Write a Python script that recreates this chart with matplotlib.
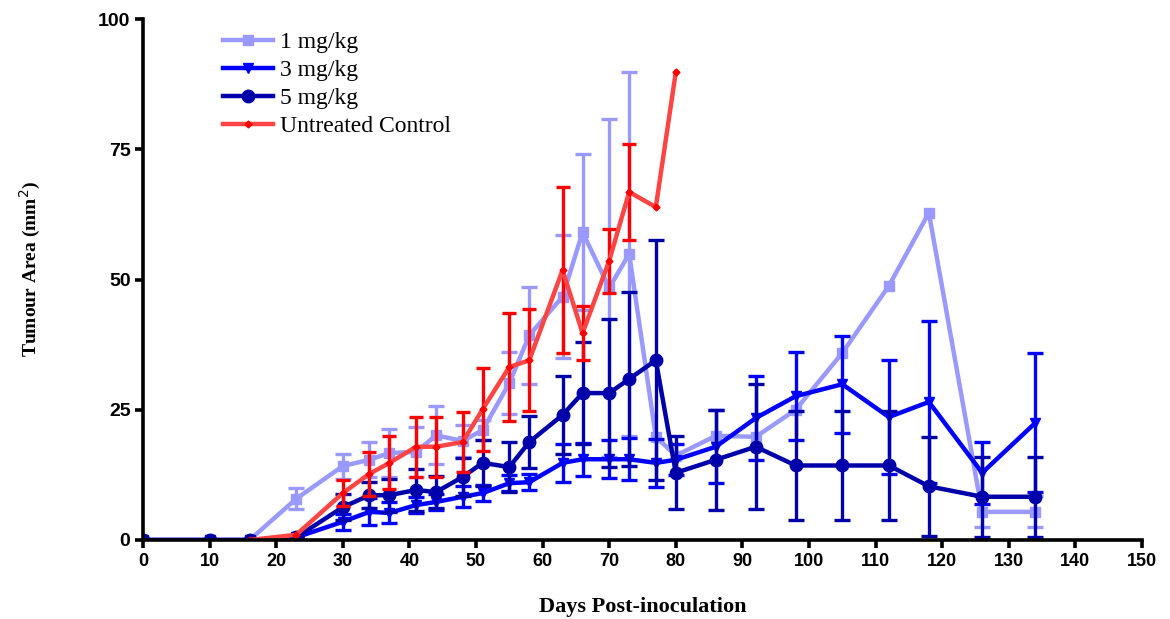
import matplotlib
matplotlib.use("Agg")
import matplotlib.pyplot as plt
from matplotlib.lines import Line2D
import numpy as np

# ---- data ----
days_treated = [0, 10, 16, 23, 30, 34, 37, 41, 44, 48, 51, 55, 58, 63, 66, 70, 73, 77, 80,
                86, 92, 98, 105, 112, 118, 126, 134]

mg1_mean = [0, 0, 0, 7.9, 14.2, 15.4, 16.7, 16.9, 20.1, 19.0, 21.1, 30.1, 39.3, 46.7, 59.1,
            48.4, 54.9, 19.8, 16.2, 20.0, 19.8, 25.0, 35.9, 48.8, 62.8, 5.4, 5.4]
mg1_err = [0, 0, 0, 2.0, 2.4, 3.4, 4.6, 4.8, 5.6, 3.0, 2.0, 6.0, 9.3, 11.8, 15.0,
           32.4, 35.0, 0, 0, 0, 0, 0, 0, 0, 0, 3.0, 3.0]

mg3_mean = [0, 0, 0, 0.5, 3.5, 5.4, 5.2, 6.7, 7.3, 8.3, 9.0, 10.9, 11.1, 14.8, 15.5,
            15.5, 15.5, 14.8, 15.4, 17.9, 23.4, 27.6, 29.9, 23.6, 26.5, 12.9, 22.5]
mg3_err = [0, 0, 0, 0.3, 1.5, 2.6, 2.0, 1.5, 1.5, 2.0, 1.5, 1.5, 1.5, 3.6, 3.2,
           3.6, 4.0, 4.6, 3.0, 7.0, 8.0, 8.5, 9.3, 11.0, 15.5, 6.0, 13.3]

mg5_mean = [0, 0, 0, 0.5, 6.3, 8.6, 8.6, 9.6, 9.2, 12.1, 14.8, 14.0, 18.8, 24.0, 28.2,
            28.2, 30.9, 34.5, 12.9, 15.4, 17.9, 14.3, 14.3, 14.3, 10.3, 8.3, 8.3]
mg5_err = [0, 0, 0, 0.3, 2.5, 2.5, 3.2, 4.0, 3.0, 3.6, 4.4, 4.8, 5.0, 7.5, 9.8,
           14.2, 16.7, 23.0, 7.0, 9.6, 12.0, 10.5, 10.5, 10.5, 9.5, 7.7, 7.7]

days_control = [16, 23, 30, 34, 37, 41, 44, 48, 51, 55, 58, 63, 66, 70, 73, 77, 80]
ctrl_mean = [0, 1.0, 9.0, 12.7, 14.8, 17.9, 17.9, 18.8, 25.1, 33.2, 34.5, 51.8, 39.7,
             53.6, 66.8, 63.9, 89.8]
ctrl_err = [0, 0, 2.5, 4.2, 5.1, 5.8, 5.8, 5.8, 8.0, 10.3, 9.8, 16.0, 5.2, 6.1, 9.2, 0, 0]

labels = ["1 mg/kg", "3 mg/kg", "5 mg/kg", "Untreated Control"]
xticks = list(range(0, 151, 10))
yticks = [0, 25, 50, 75, 100]


def err_or_nan(e):
    e = np.array(e, dtype=float)
    return np.where(e > 0, e, np.nan)


# ---- figure ----
fig = plt.figure(figsize=(11.7, 6.19), dpi=100)
ax = fig.add_axes([143/1170, 79/619, (1142-143)/1170, (540-19)/619])

c1, c3, c5 = "#9999FF", "#0000FF", "#0000AA"
cline, cerr = "#FF4444", "#FF0000"

common = dict(lw=3.2, capsize=5.5, capthick=2.4, elinewidth=2.4)
ax.errorbar(days_treated, mg1_mean, yerr=err_or_nan(mg1_err), color=c1, marker="s", ms=7,
            zorder=2, **common)
ax.errorbar(days_treated, mg3_mean, yerr=err_or_nan(mg3_err), color=c3, marker="v", ms=7,
            zorder=3, **common)
ax.errorbar(days_treated, mg5_mean, yerr=err_or_nan(mg5_err), color=c5, marker="o", ms=9,
            zorder=4, **common)
ax.errorbar(days_control, ctrl_mean, yerr=err_or_nan(ctrl_err), fmt="none",
            ecolor=cerr, capsize=5, capthick=2.4, elinewidth=2.4, zorder=5)
ax.plot(days_control, ctrl_mean, color=cline, lw=3.2, marker="D", ms=3.5,
        mfc=cerr, mec=cerr, zorder=6)

ax.set_xlim(0, 150)
ax.set_ylim(0, 100)
ax.set_xticks(xticks)
ax.set_yticks(yticks)
for s in ["top", "right"]:
    ax.spines[s].set_visible(False)
for s in ["left", "bottom"]:
    ax.spines[s].set_linewidth(2.6)
    ax.spines[s].set_zorder(10)
ax.tick_params(axis="both", direction="out", length=6, width=2.6, pad=3)

tick_font = ["Liberation Sans Narrow", "Liberation Sans"]
for lab in ax.get_xticklabels():
    lab.set_family(tick_font)
    lab.set_fontweight("bold")
    lab.set_fontsize(13)
for lab in ax.get_yticklabels():
    lab.set_family("Liberation Sans")
    lab.set_fontweight("bold")
    lab.set_fontsize(14)

ax.set_xlabel("Days Post-inoculation", family="Liberation Serif", fontweight="bold",
              fontsize=16, labelpad=20)
ax.set_ylabel("Tumour Area (mm$^2$)", family="Liberation Serif", fontweight="bold",
              fontsize=14)
ax.yaxis.set_label_coords(-0.1, 0.52)

handles = [
    Line2D([], [], color=c1, lw=3.2, marker="s", ms=7),
    Line2D([], [], color=c3, lw=3.2, marker="v", ms=7),
    Line2D([], [], color=c5, lw=3.2, marker="o", ms=9),
    Line2D([], [], color=cline, lw=3.2, marker="D", ms=3.5, mfc=cerr, mec=cerr),
]
ax.legend(handles, labels, loc="upper left",
          bbox_to_anchor=(214/1170, 1 - 22/619), bbox_transform=fig.transFigure,
          frameon=False, prop={"family": "Liberation Serif", "size": 17},
          handlelength=2.1, handletextpad=0.3, labelspacing=0.28, borderaxespad=0)

fig.savefig("out.png", dpi=100)
